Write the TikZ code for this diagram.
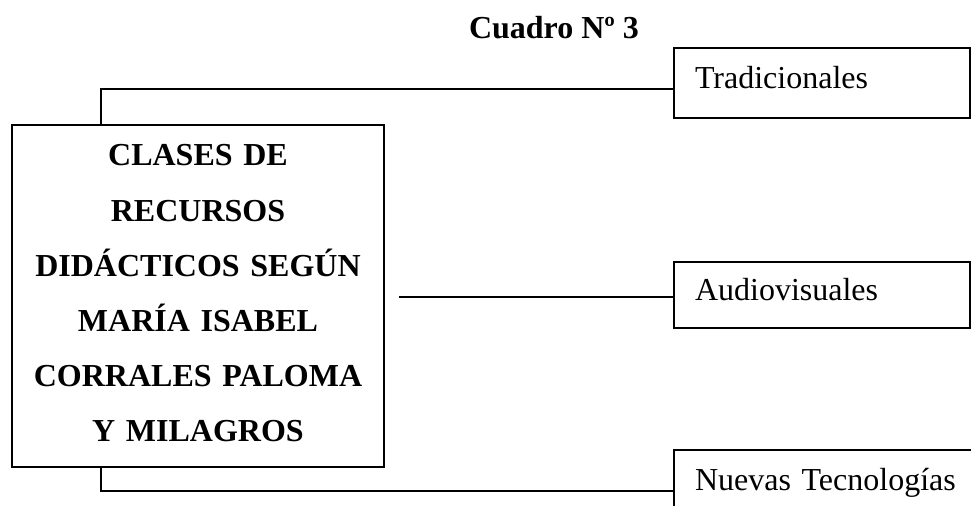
\documentclass[tikz,border=0pt]{standalone}
\usepackage{fontspec}
\setmainfont{Liberation Serif}

\begin{document}
\begin{tikzpicture}[x=0.5pt,y=-0.5pt,line width=1pt,
  clase/.style={draw,anchor=north west,minimum width=148pt,inner xsep=10.5pt,inner ysep=0pt,
    text width=127pt,align=left,text height=11pt,text depth=5pt,font=\fontsize{16}{19}\selectfont}]

\useasboundingbox (0,0) rectangle (971,506);
\clip (0,0) rectangle (971,506);

\node[anchor=base,font=\bfseries\fontsize{16}{19}\selectfont] (titulo) at (554,39) {Cuadro Nº 3};

\node[draw,anchor=north west,minimum width=186pt,minimum height=170.75pt,inner sep=0pt,
  text width=180pt,align=center,font=\bfseries\fontsize{16}{27.6}\selectfont] (recursos) at (11,124.5)
  {CLASES DE\\RECURSOS\\DIDÁCTICOS SEGÚN\\MARÍA ISABEL\\CORRALES PALOMA\\Y MILAGROS\rule[-3pt]{0pt}{0pt}};

\node[clase,minimum height=35pt] (trad) at (673,47) {Tradicionales};
\node[clase,minimum height=33pt] (audio) at (673,261) {Audiovisuales};
\node[clase,minimum height=35pt,minimum width=170pt,text width=149pt] (nuevas) at (673,449) {Nuevas Tecnologías};



\draw ([xshift=45pt]recursos.north west) |- ([yshift=-3pt]trad.west);
\draw ([xshift=7pt]recursos.east |- audio.west) ++(0,2) -- ([yshift=-1pt]audio.west);
\draw ([xshift=45pt]recursos.south west) |- ([yshift=-3pt]nuevas.west);


\end{tikzpicture}
\end{document}
